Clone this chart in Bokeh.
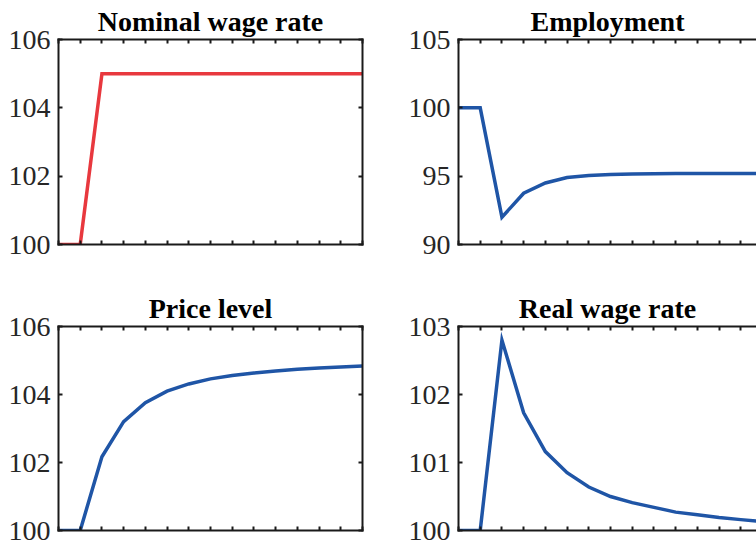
from bokeh.plotting import figure
from bokeh.layouts import column, row
from bokeh.models import FixedTicker, LinearAxis, Range1d
from bokeh.embed import file_html
from bokeh.resources import INLINE

# ---- data ----
periods = [0, 1, 2, 3, 4, 5, 6, 7, 8, 9, 10, 11, 12, 13, 14]
nominal_wage = [100, 100, 105, 105, 105, 105, 105, 105, 105, 105, 105, 105, 105, 105, 105]
employment = [100, 100, 92.0, 93.75, 94.5, 94.9, 95.05, 95.12, 95.16, 95.18, 95.19, 95.2, 95.2, 95.2, 95.2]
price_level = [100, 100, 102.17, 103.2, 103.76, 104.1, 104.31, 104.46, 104.56, 104.63,
               104.69, 104.74, 104.78, 104.81, 104.84]
real_wage = [100, 100, 102.8, 101.73, 101.16, 100.85, 100.64, 100.5, 100.41, 100.34,
             100.27, 100.23, 100.19, 100.16, 100.13]

x_ticks = [0, 1, 2, 3, 4, 5, 6, 7, 8, 9, 10, 11, 12, 13, 14]
wage_ticks = [100, 102, 104, 106]
employment_ticks = [90, 95, 100, 105]
price_ticks = [100, 102, 104, 106]
real_ticks = [100, 101, 102, 103]

RED = "#E8383E"
BLUE = "#1F55A6"
AXIS = "#1a1a1a"
FONT = "Liberation Serif"


def style_axis(ax, labels):
    ax.axis_line_color = AXIS
    ax.axis_line_width = 2
    ax.axis_line_cap = "square"
    ax.major_tick_line_color = AXIS
    ax.major_tick_line_width = 2
    ax.major_tick_in = 4
    ax.major_tick_out = 0
    ax.minor_tick_line_color = None
    if labels:
        ax.major_label_text_font = FONT
        ax.major_label_text_font_size = "28px"
        ax.major_label_text_color = "#262626"
        ax.major_label_standoff = 8
    else:
        ax.major_label_text_font_size = "1px"
        ax.major_label_text_color = None
        ax.major_label_standoff = 0


def panel(title, xs, ys, color, yticks, x_end, width, height, border_left, border_right,
          border_top, border_bottom, right_axis):
    p = figure(
        x_range=Range1d(0, x_end), y_range=Range1d(yticks[0], yticks[-1]),
        width=width, height=height,
        min_border_left=border_left, min_border_right=border_right,
        min_border_top=border_top, min_border_bottom=border_bottom,
        x_axis_type=None, y_axis_type=None,
        output_backend="svg", toolbar_location=None,
        background_fill_color="white", border_fill_color="white",
    )
    p.outline_line_color = None
    p.title.text = title
    p.title.text_font = FONT
    p.title.text_font_size = "28px"
    p.title.text_font_style = "bold"
    p.title.text_color = "black"
    p.title.align = "center"
    p.title.standoff = 6
    p.title.offset = 5

    left = LinearAxis(ticker=FixedTicker(ticks=yticks))
    style_axis(left, True)
    p.add_layout(left, "left")
    below = LinearAxis(ticker=FixedTicker(ticks=x_ticks))
    style_axis(below, False)
    p.add_layout(below, "below")
    above = LinearAxis(ticker=FixedTicker(ticks=x_ticks))
    style_axis(above, False)
    p.add_layout(above, "above")
    if right_axis:
        right = LinearAxis(ticker=FixedTicker(ticks=yticks))
        style_axis(right, False)
        p.add_layout(right, "right")

    p.line(xs, ys, line_color=color, line_width=3.5, line_join="miter")
    return p


LEFT_FRAME = 304
RIGHT_FRAME = 298
right_end = 14 * RIGHT_FRAME / LEFT_FRAME

# left column: 58 + 304 + 38 = 400 ; right column: 58 + 298 + 0 = 356
# top row: 38 + 206 + 40 = 284 ; bottom row: 42 + 204 + 16 = 262
p1 = panel("Nominal wage rate", periods, nominal_wage, RED, wage_ticks, 14,
           400, 284, 58, 38, 38, 40, True)
p2 = panel("Employment", periods, employment, BLUE, employment_ticks, right_end,
           356, 284, 58, 0, 38, 40, False)
p3 = panel("Price level", periods, price_level, BLUE, price_ticks, 14,
           400, 262, 58, 38, 42, 16, True)
p4 = panel("Real wage rate", periods, real_wage, BLUE, real_ticks, right_end,
           356, 262, 58, 0, 42, 16, False)

layout = column(row(p1, p2, spacing=0), row(p3, p4, spacing=0), spacing=0)

open("out.html", "w").write(file_html(layout, INLINE))
